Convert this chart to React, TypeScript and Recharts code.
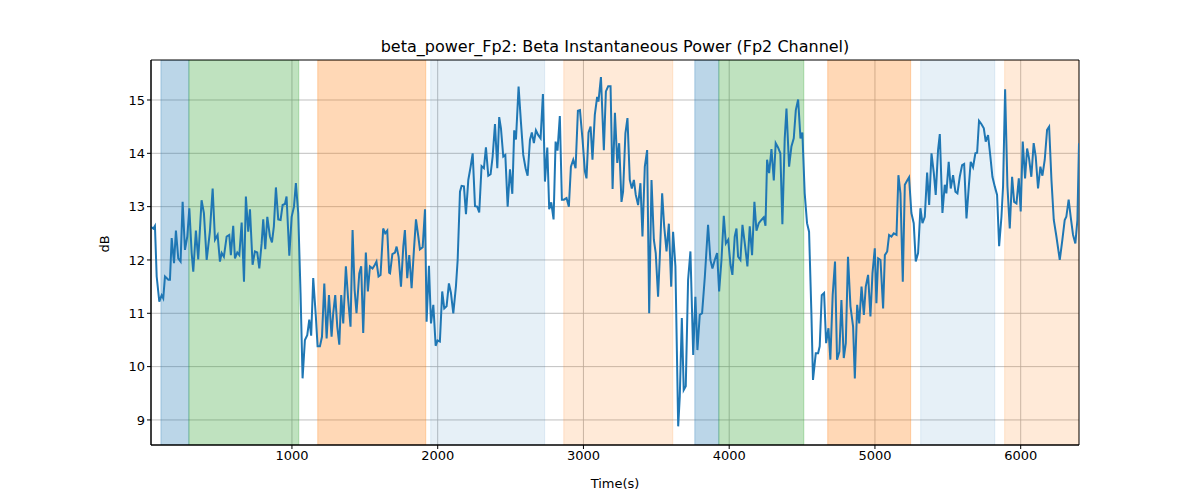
import React from "react";
import { LineChart, Line, XAxis, YAxis, CartesianGrid, ReferenceArea } from "recharts";

const times: number[] = [26,49,60,72,90,106,117,129,152,163,175,191,204,220,236,250,266,282,296,312,323,341,357,380,396,415,437,456,472,490,506,518,533,552,570,581,597,609,625,639,655,671,684,700,712,730,746,762,776,792,803,817,831,849,863,876,890,906,922,936,952,963,982,998,1014,1027,1043,1059,1073,1089,1105,1119,1132,1146,1164,1176,1192,1206,1222,1238,1254,1272,1283,1297,1311,1325,1338,1352,1370,1386,1402,1416,1430,1443,1462,1475,1489,1507,1521,1535,1553,1569,1580,1594,1608,1626,1640,1654,1667,
1673,1689,1707,1718,1732,1748,1764,1775,1791,1805,1821,1837,1851,1867,1878,1897,1913,1924,1940,1954,1970,1986,1999,2015,2031,2045,2061,2077,2091,2107,2125,2137,2153,2164,2180,2194,2210,2226,2240,2256,2271,2285,2301,2317,2331,2347,2363,2377,2393,2409,2422,2434,2450,2464,2480,2496,2512,2525,2537,2555,2571,2587,2603,2617,2633,2646,2660,2674,2690,2706,2722,2736,2752,2765,2779,2795,2809,2822,2838,2852,2866,2884,2900,2914,2930,2946,2962,2976,2994,3010,3021,3035,3049,3062,3078,3094,3103,3120,3140,3154,3170,3186,3200,3216,3232,3245,
3261,3272,3288,3302,3318,3332,3346,3359,3375,3391,3405,3421,3437,3451,3467,3483,3496,3512,3524,3540,3554,3570,3586,3602,3615,3631,3650,3661,3675,3688,3702,3718,3734,3753,3768,3782,3798,3814,3833,3855,3871,3885,3901,3917,3931,3947,3963,3977,3993,4009,4022,4038,4050,4061,4077,4091,4107,4125,4141,4157,4173,4187,4203,4221,4237,4249,4260,4274,4290,4306,4319,4335,4351,4365,4381,4393,4411,4427,4443,4457,4473,4489,4502,4518,4534,4548,4564,4575,4594,4610,4621,4635,4651,4665,4681,4694,4710,4726,4740,4756,4770,4786,4800,4815,
4832,4850,4862,4878,4892,4908,4924,4937,4953,4969,4983,4999,5010,5022,5038,5056,5068,5084,5097,5113,5129,5148,5161,5175,5191,5205,5223,5234,5250,5266,5280,5296,5312,5326,5342,5358,5372,5388,5404,5417,5433,5445,5463,5479,5490,5506,5520,5536,5552,5566,5582,5598,5612,5628,5644,5657,5673,5689,5701,5714,5730,5747,5760,5776,5792,5806,5822,5838,5852,5868,5879,5893,5909,5925,5941,5955,5971,5987,6000,6014,6030,6044,6057,6073,6089,6103,6119,6135,6149,6165,6181,6195,6211,6227,6245,6268,6286,6302,6313,6329,6343,6359,6375,6389,6400];

const power: number[] = [12.63,12.59,12.64,11.69,11.22,11.34,11.28,11.69,11.63,11.63,12.41,11.94,12.55,12.03,11.97,13.09,12.19,12.44,12.97,12.13,11.78,12.55,12.01,13.12,12.88,12.0,12.53,13.34,12.38,12.47,11.97,12.13,12.06,12.44,12.47,12.09,12.64,12.03,12.14,12.09,12.7,11.59,13.19,12.53,12.95,11.91,12.16,12.14,11.84,12.31,12.76,12.2,12.81,12.44,12.33,12.63,13.36,12.76,12.75,13.03,13.05,13.19,12.08,12.81,13.0,13.44,12.88,11.38,9.78,10.5,10.59,10.88,10.58,11.66,10.94,10.38,10.38,10.56,11.56,10.53,11.34,10.56,11.0,11.34,10.75,10.41,11.34,10.81,11.88,11.25,10.75,12.56,11.44,11.0,11.75,11.88,10.63,12.14,11.41,11.88,11.84,11.91,11.97,11.69,11.72,12.59,12.5,12.55,11.76,
11.75,12.11,12.14,12.25,12.06,11.5,12.25,12.56,11.66,12.09,11.47,12.19,12.76,12.44,12.2,12.24,12.95,10.84,11.89,10.81,11.16,10.39,10.49,10.47,11.41,11.09,11.13,11.56,11.38,11.0,11.5,12.0,13.28,13.39,13.38,12.86,13.5,13.75,14.0,13.01,13.0,12.89,13.76,13.72,14.11,13.58,13.61,13.94,14.55,13.72,14.68,14.47,13.94,13.97,13.0,13.7,13.24,14.43,14.26,15.25,14.59,13.97,13.72,13.58,14.25,14.39,14.19,14.43,14.34,14.28,15.11,13.47,14.11,12.95,13.08,12.76,14.22,14.05,14.7,13.13,13.13,13.16,13.0,13.75,13.88,13.72,14.8,14.81,14.25,13.66,13.53,14.39,14.5,13.88,14.72,15.06,14.97,15.43,14.06,15.16,15.26,15.26,13.33,14.76,13.82,14.19,
13.09,13.28,14.38,14.66,13.5,13.34,13.5,13.22,13.03,13.44,12.44,13.75,14.06,11.0,13.5,12.38,12.13,11.31,12.06,13.25,12.63,12.16,12.68,11.5,12.53,11.88,8.88,9.44,10.91,9.56,9.63,11.63,12.16,10.22,11.31,10.31,10.97,11.0,11.69,12.66,12.0,11.84,12.0,12.13,11.41,12.0,12.83,12.31,12.38,11.91,11.72,12.44,12.59,12.06,12.0,12.66,12.31,11.88,12.63,12.09,13.09,12.55,12.69,12.75,12.8,12.64,13.88,13.63,14.08,13.49,14.19,14.11,14.0,12.67,14.28,14.84,13.75,14.13,14.28,14.81,15.01,14.28,14.39,13.25,12.69,12.53,11.0,9.75,10.25,10.25,10.38,11.34,11.38,10.44,10.72,10.13,11.34,11.97,10.13,10.28,11.25,10.16,10.44,12.06,
11.13,10.75,9.78,11.16,10.81,11.5,10.97,11.5,11.72,10.94,11.75,12.22,11.19,12.03,12.0,11.09,12.09,12.16,12.47,12.44,12.5,12.47,13.59,13.25,11.59,13.41,13.5,13.55,12.88,12.69,11.97,12.13,12.97,12.69,12.81,13.64,13.03,14.0,13.63,13.22,14.06,14.36,12.88,13.41,13.25,13.84,13.34,13.59,13.28,13.25,13.56,13.78,13.8,12.78,13.38,13.84,13.74,14.0,14.01,14.61,14.55,14.47,14.22,14.34,13.94,13.56,13.38,13.22,12.26,12.81,13.38,15.2,13.38,12.59,13.56,13.09,13.06,13.53,12.91,14.22,13.53,14.09,13.91,13.56,14.19,13.94,13.34,13.75,13.58,13.88,14.44,14.5,13.5,12.75,12.44,12.0,12.38,12.75,12.81,13.13,12.81,12.47,12.31,12.75,14.19];

const spanStarts: number[] = [101, 293, 1177, 1952, 2865, 3764, 3929, 4676, 5314, 5890];
const spanEnds: number[] = [293, 1047, 1918, 2734, 3613, 3929, 4512, 5245, 5822, 6400];
const spanColors: string[] = ["#1f77b4", "#2ca02c", "#ff7f0e", "#1f77b4", "#ff7f0e", "#1f77b4", "#2ca02c", "#ff7f0e", "#1f77b4", "#ff7f0e"];
const spanOpacity: number[] = [0.3, 0.3, 0.3, 0.11, 0.16, 0.3, 0.3, 0.3, 0.11, 0.16];

const xTicks: number[] = [1000, 2000, 3000, 4000, 5000, 6000];
const yTicks: number[] = [9, 10, 11, 12, 13, 14, 15];

const data = times.map((t, i) => ({ t, v: power[i] }));
const XMIN = 33, XMAX = 6400, YMIN = 8.53, YMAX = 15.75;
const font = "DejaVu Sans, sans-serif";

export default function App() {
  return (
    <div style={{ position: "absolute", left: 0, top: 0, width: 1200, height: 500, background: "#fff", fontFamily: font }}>
      <div style={{ position: "absolute", top: 37, left: 151, width: 928, textAlign: "center", fontSize: 16, color: "#000" }}>
        beta_power_Fp2: Beta Instantaneous Power (Fp2 Channel)
      </div>
      <LineChart width={1200} height={500} data={data} margin={{ top: 60, right: 121, bottom: 0, left: 0 }}>
        {spanStarts.map((s, i) => (
          <ReferenceArea key={i} x1={s} x2={spanEnds[i]} y1={YMIN} y2={YMAX} fill={spanColors[i]} fillOpacity={spanOpacity[i]} stroke={spanColors[i]} strokeOpacity={spanOpacity[i]} ifOverflow="hidden" />
        ))}
        <CartesianGrid stroke="#b0b0b0" strokeWidth={0.8} horizontalValues={yTicks} verticalValues={xTicks} />
        <XAxis dataKey="t" type="number" domain={[XMIN, XMAX]} ticks={xTicks} allowDataOverflow height={55}
          tick={{ fill: "#000", fontSize: 13, fontFamily: font }} tickLine={{ stroke: "#000" }} tickSize={4} axisLine={{ stroke: "#000" }}
          label={{ value: "Time(s)", position: "insideBottom", offset: 12, fill: "#000", fontSize: 13, fontFamily: font }} />
        <YAxis type="number" domain={[YMIN, YMAX]} ticks={yTicks} allowDataOverflow width={151}
          tick={{ fill: "#000", fontSize: 13, fontFamily: font }} tickLine={{ stroke: "#000" }} tickSize={4} axisLine={{ stroke: "#000" }}
          label={{ value: "dB", angle: -90, position: "insideLeft", offset: 104, fill: "#000", fontSize: 13, fontFamily: font }} />
        <Line dataKey="v" stroke="#1f77b4" strokeWidth={2} dot={false} isAnimationActive={false} />
        <ReferenceArea x1={XMIN} x2={XMAX} y1={YMIN} y2={YMAX} fill="none" fillOpacity={0} stroke="#000" strokeWidth={1} />
      </LineChart>
    </div>
  );
}
